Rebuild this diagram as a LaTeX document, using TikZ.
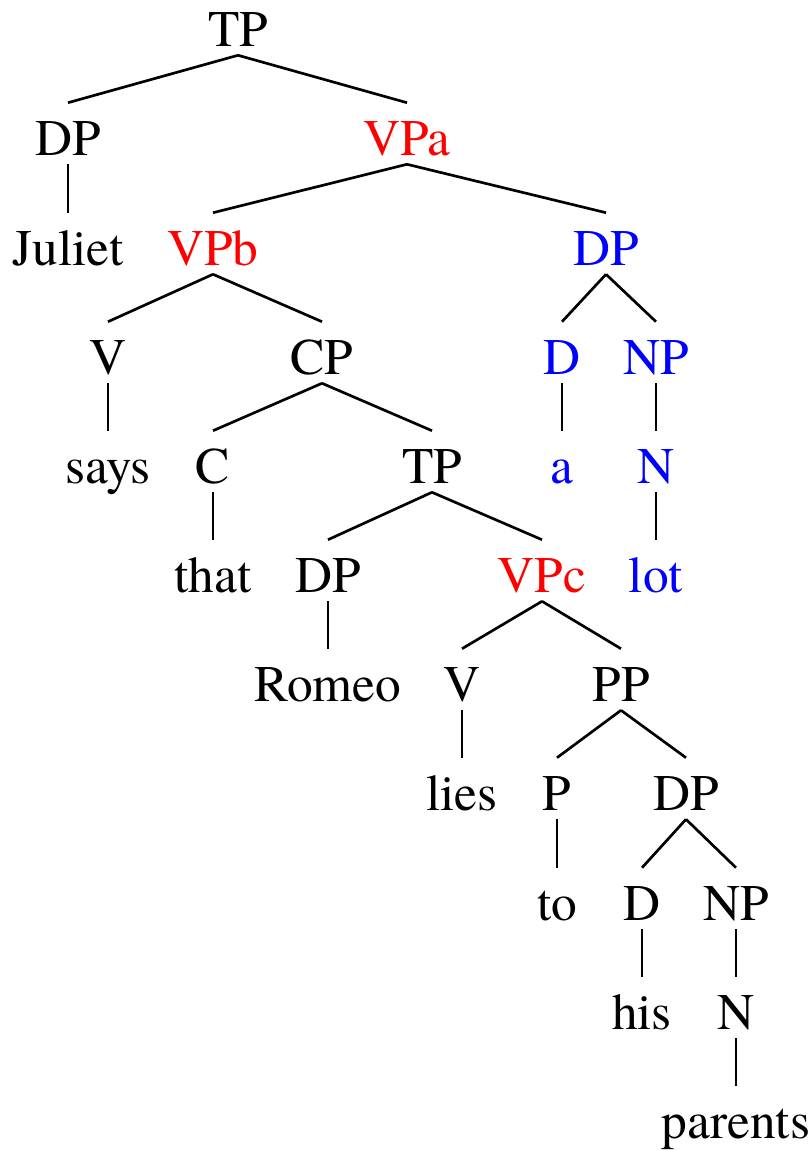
\documentclass[tikz,border=0pt]{standalone}
\usepackage{fontspec}
\setmainfont{texgyretermes-regular.otf}
\usepackage{xcolor}
\usepackage{tikz}
\usetikzlibrary{positioning}

\begin{document}
\begin{tikzpicture}[
        x=0.025cm, y=-0.025cm,
        cat/.style={anchor=base, inner xsep=0pt, inner ysep=0.225cm,
                    text height=1.075cm, text depth=0pt,
                    font=\fontsize{36.5}{40}\selectfont},
        hi/.style={cat, text=red},
        obj/.style={cat, text=blue},
        branch/.style={line width=1.9pt, line cap=butt}
    ]

    \useasboundingbox (0,0) rectangle (810,1151);

    %=== Level 0 and 1 ===%
    \node[cat] (tp)    at (238,46)  {TP};
    \node[cat] (dpJ)   at (68,155)  {DP};
    \node[hi]  (vpa)   at (407,155) {VPa};

    %=== Level 2 ===%
    \node[cat] (juliet) at (68,265)  {Juliet};
    \node[hi]  (vpb)    at (213,265) {VPb};
    \node[obj] (dpL)    at (606,265) {DP};

    %=== Level 3 ===%
    \node[cat] (v1)  at (108,374) {V};
    \node[cat] (cp)  at (322,374) {CP};
    \node[obj] (dL)  at (562,374) {D};
    \node[obj] (npL) at (656,374) {NP};

    %=== Level 4 ===%
    \node[cat] (says) at (108,483) {says};
    \node[cat] (c)    at (213,483) {C};
    \node[cat] (tp2)  at (432,483) {TP};
    \node[obj] (a)    at (562,483) {a};
    \node[obj] (nL)   at (656,483) {N};

    %=== Level 5 ===%
    \node[cat] (that) at (213,592) {that};
    \node[cat] (dpR)  at (328,592) {DP};
    \node[hi]  (vpc)  at (542,592) {VPc};
    \node[obj] (lot)  at (656,592) {lot};

    %=== Level 6 ===%
    \node[cat] (romeo) at (328,701) {Romeo};
    \node[cat] (v2)    at (462,701) {V};
    \node[cat] (pp)    at (621,701) {PP};

    %=== Level 7 ===%
    \node[cat] (lies) at (462,810) {lies};
    \node[cat] (p)    at (557,810) {P};
    \node[cat] (dpH)  at (686,810) {DP};

    %=== Level 8 to 10 ===%
    \node[cat] (to)      at (557,920)  {to};
    \node[cat] (dH)      at (642,920)  {D};
    \node[cat] (npH)     at (736,920)  {NP};
    \node[cat] (his)     at (642,1029) {his};
    \node[cat] (nH)      at (736,1029) {N};
    \node[cat] (parents) at (736,1138) {parents};

    %=== Branches ===%
    \foreach \mother/\daughter in {tp/dpJ, tp/vpa, dpJ/juliet, vpa/vpb, vpa/dpL,
            vpb/v1, vpb/cp, dpL/dL, dpL/npL, v1/says, cp/c, cp/tp2, dL/a, npL/nL,
            c/that, tp2/dpR, tp2/vpc, nL/lot, dpR/romeo, vpc/v2, vpc/pp,
            v2/lies, pp/p, pp/dpH, p/to, dpH/dH, dpH/npH, dH/his, npH/nH, nH/parents}
        \draw[branch] (\mother.south) -- (\daughter.north);

\end{tikzpicture}
\end{document}
